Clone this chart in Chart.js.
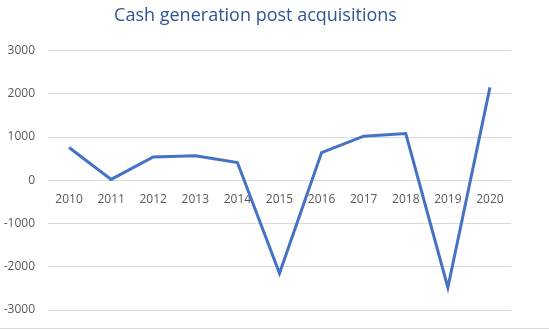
<!DOCTYPE html>
<html>
<head>
<meta charset="utf-8">
<script src="https://cdn.jsdelivr.net/npm/chart.js@4"></script>
<style>
  html, body { margin: 0; padding: 0; background: #fff; }
  #wrap { width: 549px; height: 328px; border-bottom: 1px solid #d9d9d9; }
</style>
</head>
<body>
<div id="wrap"><canvas id="cashChart" width="549" height="328"></canvas></div>
<script>
// Cash generation per year
const years = ['2010', '2011', '2012', '2013', '2014', '2015', '2016', '2017', '2018', '2019', '2020'];
const cashValues = [760, 20, 540, 570, 410, -2150, 640, 1020, 1080, -2480, 2150];
const yTicks = [-3000, -2000, -1000, 0, 1000, 2000, 3000];

const tickColor = '#595959';
const gridColor = '#d9d9d9';

new Chart(document.getElementById('cashChart'), {
    type: 'line',
    data: {
        labels: years,
        datasets: [{
            label: 'Cash generation',
            data: cashValues,
            borderColor: '#4472c4',
            borderWidth: 3,
            pointRadius: 0,
            tension: 0,
            fill: false
        }]
    },
    options: {
        responsive: false,
        animation: false,
        layout: { padding: { left: 0, right: 38, bottom: 18, top: 0 } },
        plugins: {
            legend: { display: false },
            tooltip: { enabled: false },
            title: {
                display: true,
                text: 'Cash generation post acquisitions',
                color: '#2f5597',
                font: { family: 'Open Sans', size: 18, weight: 'normal' },
                padding: { top: 5, bottom: 24 }
            }
        },
        scales: {
            x: {
                position: { y: 0 },
                offset: true,
                afterFit: scale => {
                    scale.height = 0;
                    scale.paddingTop = 0;
                    scale.paddingBottom = 0;
                },
                grid: { display: false, drawTicks: false },
                border: { display: false },
                ticks: {
                    color: tickColor,
                    font: { family: 'Open Sans', size: 12 },
                    padding: 12,
                    maxRotation: 0
                }
            },
            y: {
                min: yTicks[0],
                max: yTicks[yTicks.length - 1],
                afterBuildTicks: scale => { scale.ticks = yTicks.map(v => ({ value: v })); },
                afterFit: scale => {
                    scale.width = 48;
                    scale.paddingTop = 0;
                    scale.paddingBottom = 0;
                },
                grid: { color: gridColor, drawTicks: false },
                border: { display: false },
                ticks: {
                    color: tickColor,
                    font: { family: 'Open Sans', size: 12 },
                    padding: 13,
                    callback: v => String(v)
                }
            }
        }
    }
});
</script>
</body>
</html>
